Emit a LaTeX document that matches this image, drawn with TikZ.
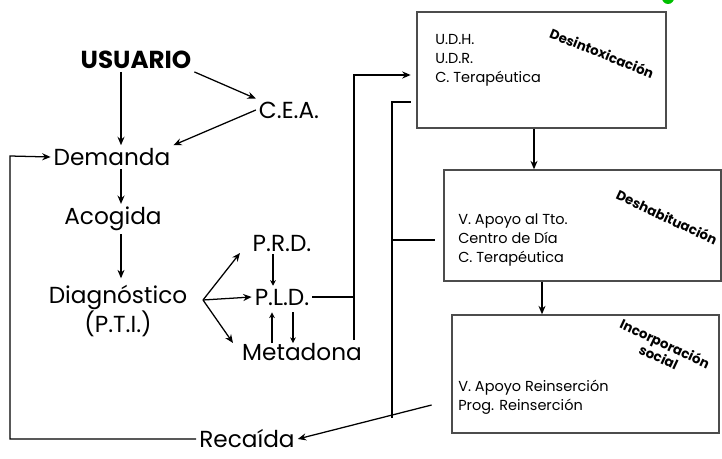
\documentclass[tikz,border=0pt]{standalone}
\usepackage{fontspec}
\setmainfont{Poppins}
\usetikzlibrary{arrows.meta,positioning,fit}

\begin{document}
\begin{tikzpicture}[x=0.025cm,y=-0.025cm,
    big/.style={font=\fontsize{16.5}{20}\selectfont, inner sep=2pt},
    boxtxt/.style={font=\fontsize{10.3}{13.5}\selectfont, align=left, anchor=west, inner sep=0pt},
    tag/.style={font=\fontsize{9.5}{10.5}\selectfont\bfseries, align=center, inner sep=0pt},
    stage/.style={draw=black!70, line width=1pt, inner sep=0pt},
    arr/.style={-{Stealth[length=6pt,width=5pt]}, line width=0.9pt},
    ln/.style={line width=0.9pt}]
  %%%%% FRAME %%%%%
  \useasboundingbox (0,0) rectangle (722,459);
  \fill[green!75!black] (668,-2) circle (6);

  %%%%% LEFT COLUMN %%%%%
  \coordinate (spine) at (121,0);
  \node[big, font=\fontsize{17.5}{20}\selectfont\bfseries] (usu) at (136,60) {USUARIO};
  \node[big] (cea) at (289,110) {C.E.A.};
  \node[big] (dem) at (112,157) {Demanda};
  \node[big] (acog) at (113,219) {Acogida};
  \node[big, align=center] (diag) at (118,311) {Diagnóstico\\(P.T.I.)};
  \node[big] (rec) at (247,439) {Recaída};

  \draw[arr] (usu.south -| spine) -- (dem.north -| spine);
  \draw[arr] (usu.south east) -- (cea.north west);
  \draw[arr] (cea.west) -- (dem.north east);
  \draw[arr] (dem.south -| spine) -- (acog.north -| spine);
  \draw[arr] (acog.south -| spine) -- ([yshift=3pt]diag.north -| spine);

  %%%%% TREATMENTS %%%%%
  \node[big] (prd) at (282,243) {P.R.D.};
  \node[big] (pld) at (282,297) {P.L.D.};
  \node[big] (meta) at (302,352) {Metadona};
  \coordinate (fan) at (203,300);
  \draw[arr] (fan) -- (240,253);
  \draw[arr] (fan) -- (pld.west);
  \draw[arr] (fan) -- (233,343);
  \draw[arr, -{Stealth[length=4pt,width=4pt]}] (prd.south -| 273,0) -- (pld.north -| 273,0);
  \draw[arr, -{Stealth[length=4pt,width=4pt]}] ([yshift=-2pt]meta.north -| 272,0) -- ([yshift=-3pt]pld.south -| 272,0);
  \draw[arr, -{Stealth[length=4pt,width=4pt]}] ([yshift=-3pt]pld.south -| 293,0) -- ([yshift=-2pt]meta.north -| 293,0);

  %%%%% STAGES %%%%%
  \node[stage, fit={(417,12) (666,128)}] (desin) {};
  \node[stage, fit={(444,170) (721,281)}] (desh) {};
  \node[stage, fit={(452,315) (719,433)}] (incor) {};

  \node[boxtxt] (t1) at (435,60) {U.D.H.\\U.D.R.\\C. Terapéutica};
  \node[boxtxt] (t2) at (458,240) {V. Apoyo al Tto.\\Centro de Día\\C. Terapéutica};
  \node[boxtxt] (t3) at (458,397) {V. Apoyo Reinserción\\Prog. Reinserción};
  \node[tag, rotate=-22] (g1) at (602,53) {Desintoxicación};
  \node[tag, rotate=-25] (g2) at (667,217) {Deshabituación};
  \node[tag, rotate=-25] (g3) at (662,350) {Incorporación\\social};

  \draw[arr] (desin.south -| 534,0) -- (desh.north -| 534,0);
  \draw[arr] (desh.south -| 542,0) -- (incor.north -| 542,0);

  %%%%% CONNECTIONS %%%%%
  \coordinate (bus1) at (354,75);
  \coordinate (bus2) at (392,102);
  \draw[ln] (pld.east) -- (pld.east -| bus1);
  \draw[arr] (bus1 |- meta.north) -- (bus1) -- ([xshift=-4]desin.west |- bus1);
  \draw[ln] ([xshift=-4]desin.west |- bus2) -- (bus2) -- (392,418);
  \draw[ln] (392,240) -- ([xshift=-6]desh.west |- 0,240);
  \draw[arr] ([xshift=-14]incor.west |- 0,405) -- (rec.east);
  \draw[arr] (rec.west) -- (10,439) -- (10,156) -- (dem.west);
\end{tikzpicture}
\end{document}
